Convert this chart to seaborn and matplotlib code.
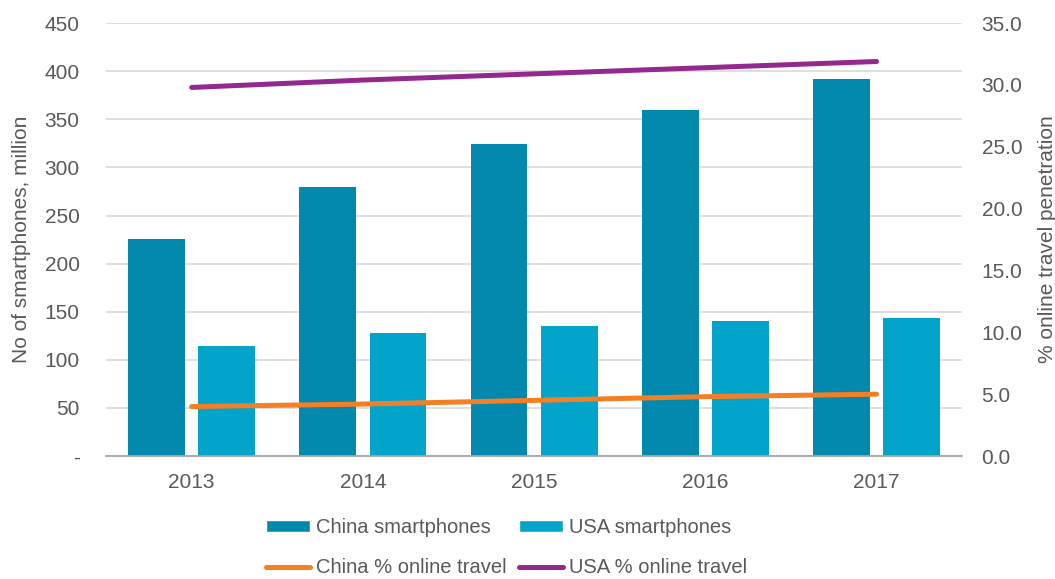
import matplotlib
matplotlib.use("Agg")
import matplotlib.pyplot as plt
import seaborn as sns
import pandas as pd
import numpy as np

years = ["2013", "2014", "2015", "2016", "2017"]
china_phones = [226, 280, 324, 360, 392]
usa_phones = [114, 128, 135, 140, 143]
china_travel = [4.0, 4.2, 4.5, 4.8, 5.0]
usa_travel = [29.8, 30.4, 30.9, 31.4, 31.9]

left_ticks = [0, 50, 100, 150, 200, 250, 300, 350, 400, 450]
left_labels = ["-", "50", "100", "150", "200", "250", "300", "350", "400", "450"]
right_ticks = [0, 5, 10, 15, 20, 25, 30, 35]

C_CHINA = "#0289AD"
C_USA = "#02A4CA"
C_CHINA_L = "#F47F24"
C_USA_L = "#93288E"
TXT = "#595959"
FS = 15

sns.set_style("white")
plt.rcParams["font.family"] = ["Liberation Sans", "DejaVu Sans"]

bars = pd.DataFrame({
    "year": years * 2,
    "value": china_phones + usa_phones,
    "series": ["China smartphones"] * len(years) + ["USA smartphones"] * len(years),
})
lines = pd.DataFrame({
    "pos": list(range(len(years))) * 2,
    "value": china_travel + usa_travel,
    "series": ["China % online travel"] * len(years) + ["USA % online travel"] * len(years),
})

fig = plt.figure(figsize=(10.55, 5.79), dpi=100)
ax = fig.add_axes([0.1005, 0.2124, 0.8115, 0.7476])

sns.barplot(data=bars, x="year", y="value", hue="series", order=years,
            palette=[C_CHINA, C_USA], width=0.82, gap=0.19, ax=ax,
            saturation=1, edgecolor="none")
ax.set_xlim(-0.5, len(years) - 0.5)
ax.set_ylim(0, 450)
ax.set_yticks(left_ticks)
ax.set_yticklabels(left_labels)
ax.yaxis.grid(True, color="#D9D9D9", linewidth=1.2)
ax.set_axisbelow(True)
ax.set_xlabel("")
ax.set_ylabel("No of smartphones, million", fontsize=FS, color=TXT, labelpad=10)
ax.tick_params(axis="y", length=0, pad=19, labelsize=FS, colors=TXT)
ax.tick_params(axis="x", length=0, pad=12, labelsize=FS, colors=TXT)
for s in ["top", "right", "left"]:
    ax.spines[s].set_visible(False)
ax.spines["bottom"].set_color("#A6A6A6")
ax.spines["bottom"].set_linewidth(1.3)
if ax.get_legend() is not None:
    ax.get_legend().remove()

ax2 = ax.twinx()
sns.lineplot(data=lines, x="pos", y="value", hue="series",
             palette=[C_CHINA_L, C_USA_L], linewidth=3.6, ax=ax2,
             solid_capstyle="round")
ax2.set_ylim(0, 35)
ax2.set_yticks(right_ticks)
ax2.set_yticklabels([f"{t:.1f}" for t in right_ticks])
ax2.set_xlim(-0.5, len(years) - 0.5)
ax2.set_xlabel("")
ax2.set_ylabel("% online travel penetration", fontsize=FS, color=TXT, labelpad=11)
ax2.tick_params(axis="y", length=0, pad=14, labelsize=FS, colors=TXT)
for s in ["top", "right", "left", "bottom"]:
    ax2.spines[s].set_visible(False)
if ax2.get_legend() is not None:
    ax2.get_legend().remove()

from matplotlib.patches import Patch
from matplotlib.lines import Line2D
handles = [
    Patch(facecolor=C_CHINA, label="China smartphones"),
    Line2D([0], [0], color=C_CHINA_L, lw=3.6, solid_capstyle="round", label="China % online travel"),
    Patch(facecolor=C_USA, label="USA smartphones"),
    Line2D([0], [0], color=C_USA_L, lw=3.6, solid_capstyle="round", label="USA % online travel"),
]
leg = fig.legend(handles=handles, loc="lower center", bbox_to_anchor=(0.48, -0.028),
                 ncol=2, frameon=False, fontsize=14.5, handlelength=2.2,
                 handleheight=0.5, handletextpad=0.3, columnspacing=0.6,
                 labelspacing=1.05, labelcolor=TXT)

fig.savefig("out.png", dpi=100)
